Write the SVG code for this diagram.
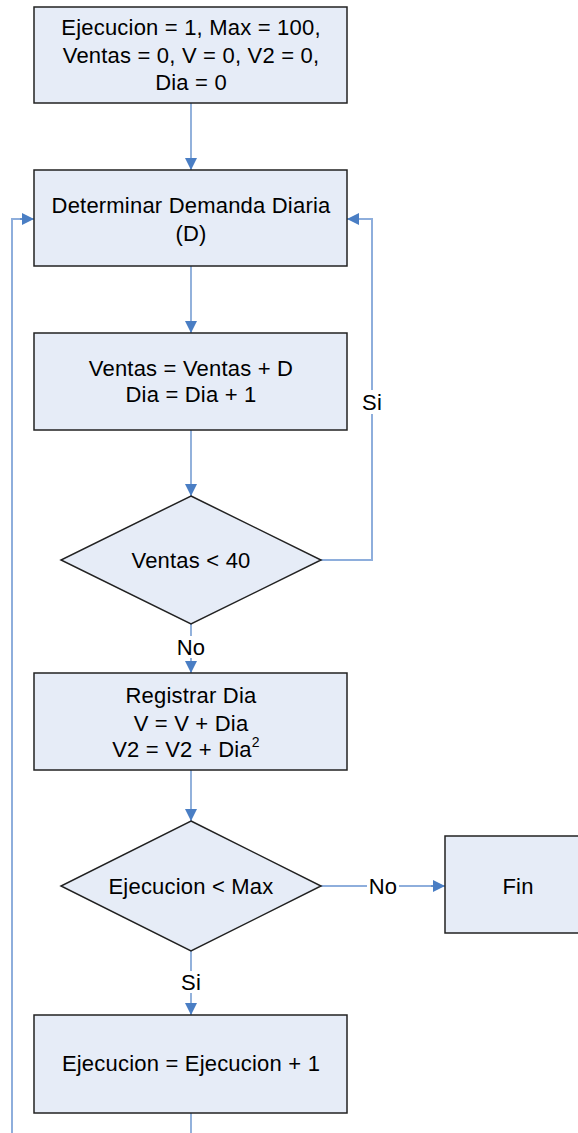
<svg xmlns="http://www.w3.org/2000/svg" width="578" height="1133" viewBox="0 0 578 1133">
<style>
.box{fill:#E6ECF7;stroke:#222;stroke-width:1.5}
.t{font-family:"Liberation Sans",Arial,sans-serif;font-size:22px;letter-spacing:0.2px;fill:#000;text-anchor:middle}
.c{fill:none;stroke:#4A7EC4;stroke-width:1.2}
.cl{fill:none;stroke:#8EAEDC;stroke-width:2}
.lbg{fill:#fff}
</style>
<defs>
<marker id="ah" viewBox="0 0 12 12" refX="12" refY="6" markerWidth="12" markerHeight="12" markerUnits="userSpaceOnUse" orient="auto">
<path d="M0,0 L12,6 L0,12 z" fill="#4A7EC4"/>
</marker>
</defs>
<rect width="578" height="1133" fill="#fff"/>
<g id="connectors">
<path class="c" d="M191,103 V170" marker-end="url(#ah)"/>
<path class="c" d="M191,266 V333" marker-end="url(#ah)"/>
<path class="c" d="M191,430 V496" marker-end="url(#ah)"/>
<path class="cl" d="M321,560 H372 V219 H349"/>
<path class="c" d="M359,219 H347" marker-end="url(#ah)"/>
<path class="c" d="M191,624 V673" marker-end="url(#ah)"/>
<path class="c" d="M191,770 V821" marker-end="url(#ah)"/>
<path class="cl" d="M321,886 H435"/>
<path class="c" d="M431,886 H445" marker-end="url(#ah)"/>
<path class="c" d="M191,951 V1015" marker-end="url(#ah)"/>
<path class="c" d="M191,1113 V1133"/>
<path class="cl" d="M12,1133 V219 H24"/>
<path class="c" d="M20,219 H34" marker-end="url(#ah)"/>
<rect class="lbg" x="360" y="390" width="24" height="24"/>
<text class="t" x="372" y="410">Si</text>
<rect class="lbg" x="175" y="636" width="32" height="22"/>
<text class="t" x="191" y="655">No</text>
<rect class="lbg" x="367" y="875" width="32" height="22"/>
<text class="t" x="383" y="894">No</text>
<rect class="lbg" x="179" y="971" width="24" height="22"/>
<text class="t" x="191" y="990">Si</text>
</g>
<g id="init">
<rect class="box" x="34" y="7" width="313" height="96"/>
<text class="t" x="191" y="35">Ejecucion = 1, Max = 100,</text>
<text class="t" x="191" y="63">Ventas = 0, V = 0, V2 = 0,</text>
<text class="t" x="191" y="90">Dia = 0</text>
</g>
<g id="demanda">
<rect class="box" x="34" y="170" width="313" height="96"/>
<text class="t" x="191" y="213">Determinar Demanda Diaria</text>
<text class="t" x="191" y="241">(D)</text>
</g>
<g id="ventas">
<rect class="box" x="34" y="333" width="313" height="97"/>
<text class="t" x="191" y="376">Ventas = Ventas + D</text>
<text class="t" x="191" y="402">Dia = Dia + 1</text>
</g>
<g id="cond1">
<polygon class="box" points="191,496 321,560 191,624 61,560"/>
<text class="t" x="191" y="568">Ventas &lt; 40</text>
</g>
<g id="registrar">
<rect class="box" x="34" y="673" width="313" height="97"/>
<text class="t" x="191" y="703">Registrar Dia</text>
<text class="t" x="191" y="731">V = V + Dia</text>
<text class="t" x="186" y="757">V2 = V2 + Dia<tspan font-size="14" dy="-10">2</tspan></text>
</g>
<g id="cond2">
<polygon class="box" points="191,821 321,886 191,951 61,886"/>
<text class="t" x="191" y="894">Ejecucion &lt; Max</text>
</g>
<g id="fin">
<rect class="box" x="445" y="836" width="160" height="97"/>
<text class="t" x="518" y="894">Fin</text>
</g>
<g id="incremento">
<rect class="box" x="34" y="1015" width="313" height="98"/>
<text class="t" x="191" y="1071">Ejecucion = Ejecucion + 1</text>
</g>
</svg>
